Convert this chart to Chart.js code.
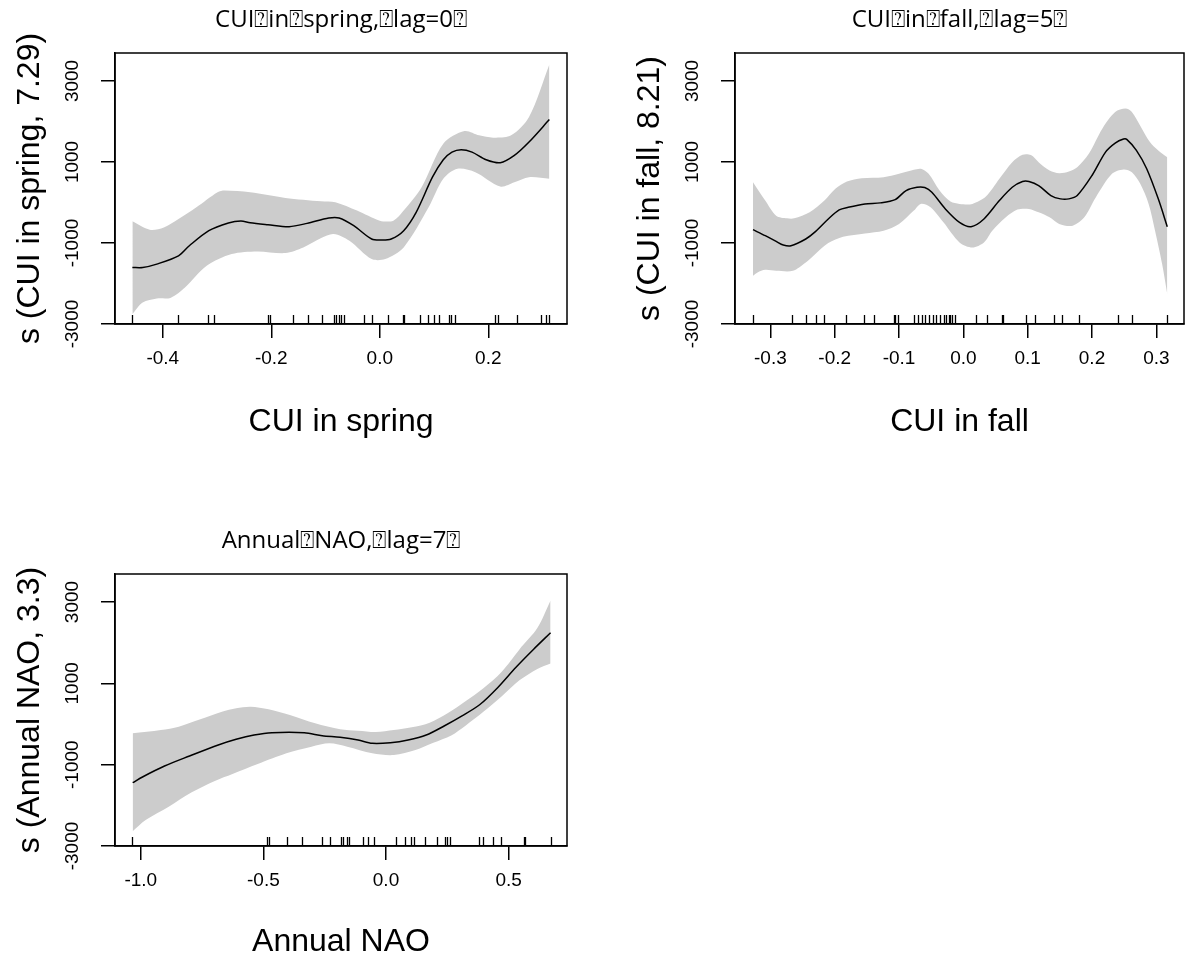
<!DOCTYPE html>
<html>
<head>
<meta charset="utf-8">
<script src="https://cdn.jsdelivr.net/npm/chart.js@4.4.1/dist/chart.umd.min.js"></script>
<style>
  body { margin: 0; background: #fff; }
  .panel { position: absolute; }
</style>
</head>
<body>
<div class="panel" style="left:0;top:0;width:593px;height:480px"><canvas id="spring"></canvas></div>
<div class="panel" style="left:593px;top:0;width:593px;height:480px"><canvas id="fall"></canvas></div>
<div class="panel" style="left:0;top:480px;width:593px;height:481px"><canvas id="nao"></canvas></div>
<script>
// shared y axis
const yTicks = [-3000, -2000, -1000, 0, 1000, 2000, 3000];
const yLabeled = [-3000, -1000, 1000, 3000];

// CUI in spring, lag 0
const springFitX = [-0.456, -0.437, -0.411, -0.371, -0.351, -0.315, -0.279, -0.256, -0.239, -0.206, -0.167, -0.134, -0.094, -0.075, -0.048, -0.015, 0.004, 0.021, 0.044, 0.067, 0.097, 0.117, 0.133, 0.150, 0.170, 0.196, 0.222, 0.248, 0.275, 0.3125];
const springFit = [-1605, -1605, -1521, -1316, -1068, -696, -506, -456, -500, -548, -597, -516, -382, -382, -573, -902, -927, -902, -696, -243, 624, 1055, 1243, 1303, 1243, 1055, 981, 1161, 1491, 2046];
const springUpX = [-0.456, -0.424, -0.398, -0.371, -0.338, -0.299, -0.286, -0.239, -0.174, -0.108, -0.082, -0.042, 0.0, 0.025, 0.044, 0.077, 0.117, 0.156, 0.183, 0.209, 0.242, 0.275, 0.3125];
const springUp = [-466, -672, -615, -407, -119, 252, 294, 252, 113, 29, 5, -201, -449, -449, -201, 376, 1451, 1763, 1657, 1600, 1657, 2110, 3408];
const springLoX = [-0.456, -0.437, -0.411, -0.385, -0.359, -0.319, -0.273, -0.226, -0.174, -0.141, -0.108, -0.085, -0.056, -0.015, 0.010, 0.044, 0.090, 0.117, 0.143, 0.176, 0.222, 0.248, 0.275, 0.3125];
const springLo = [-2760, -2472, -2373, -2349, -2101, -1563, -1274, -1209, -1249, -1110, -877, -778, -944, -1397, -1397, -1110, -119, 584, 832, 748, 394, 500, 624, 584];
const springRug = [-0.456, -0.371, -0.317, -0.305, -0.206, -0.203, -0.160, -0.133, -0.106, -0.085, -0.081, -0.076, -0.071, -0.066, -0.030, -0.015, 0.016, 0.042, 0.045, 0.075, 0.089, 0.099, 0.109, 0.128, 0.132, 0.138, 0.212, 0.217, 0.253, 0.297, 0.306, 0.312];
const springTicks = [-0.4, -0.2, 0.0, 0.2];

// CUI in fall, lag 5
const fallFitX = [-0.327, -0.308, -0.291, -0.280, -0.268, -0.245, -0.230, -0.210, -0.193, -0.179, -0.153, -0.129, -0.106, -0.089, -0.072, -0.060, -0.049, -0.028, -0.006, 0.012, 0.032, 0.056, 0.076, 0.092, 0.102, 0.117, 0.136, 0.151, 0.164, 0.177, 0.200, 0.221, 0.236, 0.249, 0.254, 0.269, 0.285, 0.303, 0.317];
const fallFit = [-672, -820, -962, -1050, -1068, -902, -721, -407, -184, -119, -35, -10, 71, 294, 376, 368, 252, -159, -491, -597, -407, 47, 376, 517, 517, 418, 171, 89, 89, 171, 666, 1243, 1466, 1565, 1557, 1285, 832, 89, -597];
const fallUpX = [-0.327, -0.308, -0.291, -0.274, -0.263, -0.239, -0.216, -0.199, -0.181, -0.158, -0.124, -0.100, -0.077, -0.066, -0.054, -0.037, -0.020, -0.006, 0.014, 0.035, 0.056, 0.076, 0.092, 0.105, 0.117, 0.134, 0.149, 0.164, 0.177, 0.195, 0.216, 0.236, 0.252, 0.262, 0.290, 0.303, 0.317];
const fallUp = [500, 47, -325, -392, -392, -243, 47, 337, 517, 599, 624, 708, 807, 832, 708, 294, 22, -35, -35, 146, 584, 995, 1178, 1170, 995, 790, 723, 765, 872, 1203, 1823, 2234, 2318, 2234, 1491, 1285, 1119];
const fallLoX = [-0.327, -0.320, -0.308, -0.291, -0.265, -0.245, -0.233, -0.210, -0.187, -0.153, -0.124, -0.100, -0.077, -0.066, -0.051, -0.031, -0.006, 0.014, 0.032, 0.045, 0.066, 0.084, 0.102, 0.117, 0.134, 0.149, 0.170, 0.188, 0.206, 0.231, 0.249, 0.262, 0.275, 0.288, 0.298, 0.309, 0.317];
const fallLo = [-1811, -1729, -1662, -1687, -1687, -1482, -1316, -1001, -845, -763, -696, -530, -201, -35, -119, -491, -986, -1110, -986, -696, -367, -176, -159, -243, -367, -530, -573, -367, 129, 708, 815, 748, 460, -35, -696, -1521, -2264];
const fallRug = [-0.327, -0.266, -0.245, -0.229, -0.216, -0.183, -0.154, -0.139, -0.108, -0.106, -0.102, -0.076, -0.070, -0.065, -0.059, -0.053, -0.047, -0.042, -0.036, -0.030, -0.027, -0.023, -0.020, -0.017, -0.013, 0.019, 0.037, 0.060, 0.062, 0.097, 0.111, 0.141, 0.154, 0.180, 0.241, 0.262, 0.317];
const fallTicks = [-0.3, -0.2, -0.1, 0.0, 0.1, 0.2, 0.3];

// Annual NAO, lag 7
const naoFitX = [-1.033, -0.991, -0.903, -0.801, -0.684, -0.611, -0.538, -0.465, -0.333, -0.260, -0.187, -0.114, -0.056, 0.018, 0.090, 0.164, 0.237, 0.310, 0.383, 0.456, 0.529, 0.602, 0.671];
const naoFit = [-1443, -1296, -1033, -787, -516, -376, -271, -214, -214, -288, -327, -393, -475, -460, -393, -271, -49, 200, 480, 900, 1390, 1840, 2245];
const naoUpX = [-1.033, -0.918, -0.845, -0.757, -0.669, -0.611, -0.552, -0.479, -0.392, -0.289, -0.187, -0.114, -0.041, 0.032, 0.105, 0.178, 0.251, 0.324, 0.397, 0.471, 0.544, 0.617, 0.671];
const naoUp = [-229, -148, -66, 116, 302, 386, 426, 361, 221, 17, -130, -165, -197, -148, -81, 32, 263, 560, 880, 1280, 1835, 2360, 3040];
const naoLoX = [-1.035, -0.980, -0.886, -0.792, -0.698, -0.626, -0.523, -0.406, -0.304, -0.231, -0.158, -0.056, 0.032, 0.120, 0.193, 0.266, 0.324, 0.397, 0.471, 0.544, 0.617, 0.671];
const naoLo = [-2648, -2361, -2034, -1680, -1400, -1230, -984, -721, -558, -475, -558, -721, -762, -639, -460, -280, -40, 300, 680, 1075, 1355, 1490];
const naoRug = [-1.035, -0.487, -0.479, -0.404, -0.341, -0.263, -0.229, -0.185, -0.174, -0.161, -0.150, -0.095, -0.075, -0.049, 0.042, 0.077, 0.103, 0.113, 0.160, 0.207, 0.241, 0.249, 0.260, 0.379, 0.394, 0.437, 0.468, 0.562, 0.567, 0.672];
const naoTicks = [-1.0, -0.5, 0.0, 0.5];

Chart.defaults.font.family = "'Liberation Sans', Arial, sans-serif";
Chart.defaults.color = '#000';

// full box around the plot region
const boxPlugin = {
    id: 'panelBox',
    afterDraw(chart) {
        const { ctx, chartArea: a } = chart;
        ctx.save();
        ctx.strokeStyle = '#000';
        ctx.lineWidth = 1.5;
        ctx.strokeRect(a.left, a.top, a.right - a.left, a.bottom - a.top);
        ctx.restore();
    }
};

// rug of observations along the bottom
const rugPlugin = {
    id: 'panelRug',
    afterDatasetsDraw(chart, args, opts) {
        const { ctx, chartArea: a, scales } = chart;
        ctx.save();
        ctx.strokeStyle = '#000';
        ctx.lineWidth = 1.3;
        ctx.beginPath();
        opts.values.forEach(v => {
            const px = Math.round(scales.x.getPixelForValue(v)) + 0.5;
            ctx.moveTo(px, a.bottom);
            ctx.lineTo(px, a.bottom - 9);
        });
        ctx.stroke();
        ctx.restore();
    }
};

// main title above the box
const titlePlugin = {
    id: 'panelTitle',
    afterDraw(chart, args, opts) {
        const { ctx, chartArea: a } = chart;
        ctx.save();
        ctx.fillStyle = '#000';
        ctx.font = "24px 'Open Sans', 'DejaVu Sans', sans-serif";
        ctx.textAlign = 'center';
        ctx.textBaseline = 'alphabetic';
        ctx.fillText(opts.text, (a.left + a.right) / 2, a.top - 26);
        ctx.restore();
    }
};

function pts(xs, ys) {
    return xs.map((x, i) => ({ x: x, y: ys[i] }));
}

function makePanel(id, p) {
    return new Chart(document.getElementById(id), {
        type: 'line',
        data: {
            datasets: [
                { data: pts(p.fitX, p.fit), borderColor: '#000', borderWidth: 1.5, pointRadius: 0, tension: 0.3, fill: false },
                { data: pts(p.upX, p.up), borderWidth: 0, borderColor: 'rgba(0,0,0,0)', pointRadius: 0, tension: 0.3, fill: '+1', backgroundColor: '#cccccc' },
                { data: pts(p.loX, p.lo), borderWidth: 0, borderColor: 'rgba(0,0,0,0)', pointRadius: 0, tension: 0.3, fill: false }
            ]
        },
        options: {
            responsive: true,
            maintainAspectRatio: false,
            animation: false,
            layout: { padding: p.pad },
            plugins: {
                legend: { display: false },
                tooltip: { enabled: false },
                panelRug: { values: p.rug },
                panelTitle: { text: p.title }
            },
            scales: {
                x: {
                    type: 'linear',
                    min: p.xMin,
                    max: p.xMax,
                    afterBuildTicks: s => { s.ticks = p.xTicks.map(v => ({ value: v })); },
                    afterFit: s => { s.height = p.xH; s.paddingLeft = 0; s.paddingRight = 0; },
                    grid: { drawOnChartArea: false, drawTicks: true, tickLength: 14, color: '#000', lineWidth: 1.5 },
                    border: { display: true, color: '#000', width: 1.5 },
                    ticks: { padding: 9, maxRotation: 0, font: { size: 19 }, callback: v => v.toFixed(1) },
                    title: { display: true, text: p.xTitle, font: { size: 32 }, padding: 0 }
                },
                y: {
                    min: -3000,
                    max: 3690,
                    afterBuildTicks: s => { s.ticks = yTicks.map(v => ({ value: v })); },
                    afterFit: s => { s.width = 115; s.paddingTop = 0; s.paddingBottom = 0; },
                    grid: { drawOnChartArea: false, drawTicks: true, tickLength: 14, color: '#000', lineWidth: 1.5 },
                    border: { display: true, color: '#000', width: 1.5 },
                    ticks: {
                        minRotation: 90, maxRotation: 90, crossAlign: 'center', padding: 4,
                        font: { size: 19 },
                        callback: v => yLabeled.includes(v) ? String(v) : ''
                    },
                    title: { display: true, text: p.yTitle, font: { size: 32 }, padding: { top: 11, bottom: 0 } }
                }
            }
        },
        plugins: [boxPlugin, rugPlugin, titlePlugin]
    });
}

makePanel('spring', {
    title: 'CUI\u2370in\u2370spring,\u2370lag=0\u2370',
    xTitle: 'CUI in spring', yTitle: 's (CUI in spring, 7.29)',
    fitX: springFitX, fit: springFit, upX: springUpX, up: springUp, loX: springLoX, lo: springLo,
    rug: springRug, xTicks: springTicks, xMin: -0.488, xMax: 0.345, xH: 117,
    pad: { top: 53, left: 0, right: 26, bottom: 39 }
});

makePanel('fall', {
    title: 'CUI\u2370in\u2370fall,\u2370lag=5\u2370',
    xTitle: 'CUI in fall', yTitle: 's (CUI in fall, 8.21)',
    fitX: fallFitX, fit: fallFit, upX: fallUpX, up: fallUp, loX: fallLoX, lo: fallLo,
    rug: fallRug, xTicks: fallTicks, xMin: -0.355, xMax: 0.343, xH: 117,
    pad: { top: 53, left: 27, right: 2, bottom: 39 }
});

makePanel('nao', {
    title: 'Annual\u2370NAO,\u2370lag=7\u2370',
    xTitle: 'Annual NAO', yTitle: 's (Annual NAO, 3.3)',
    fitX: naoFitX, fit: naoFit, upX: naoUpX, up: naoUp, loX: naoLoX, lo: naoLo,
    rug: naoRug, xTicks: naoTicks, xMin: -1.105, xMax: 0.738, xH: 115,
    pad: { top: 94, left: 0, right: 26, bottom: 0 }
});
</script>
</body>
</html>
